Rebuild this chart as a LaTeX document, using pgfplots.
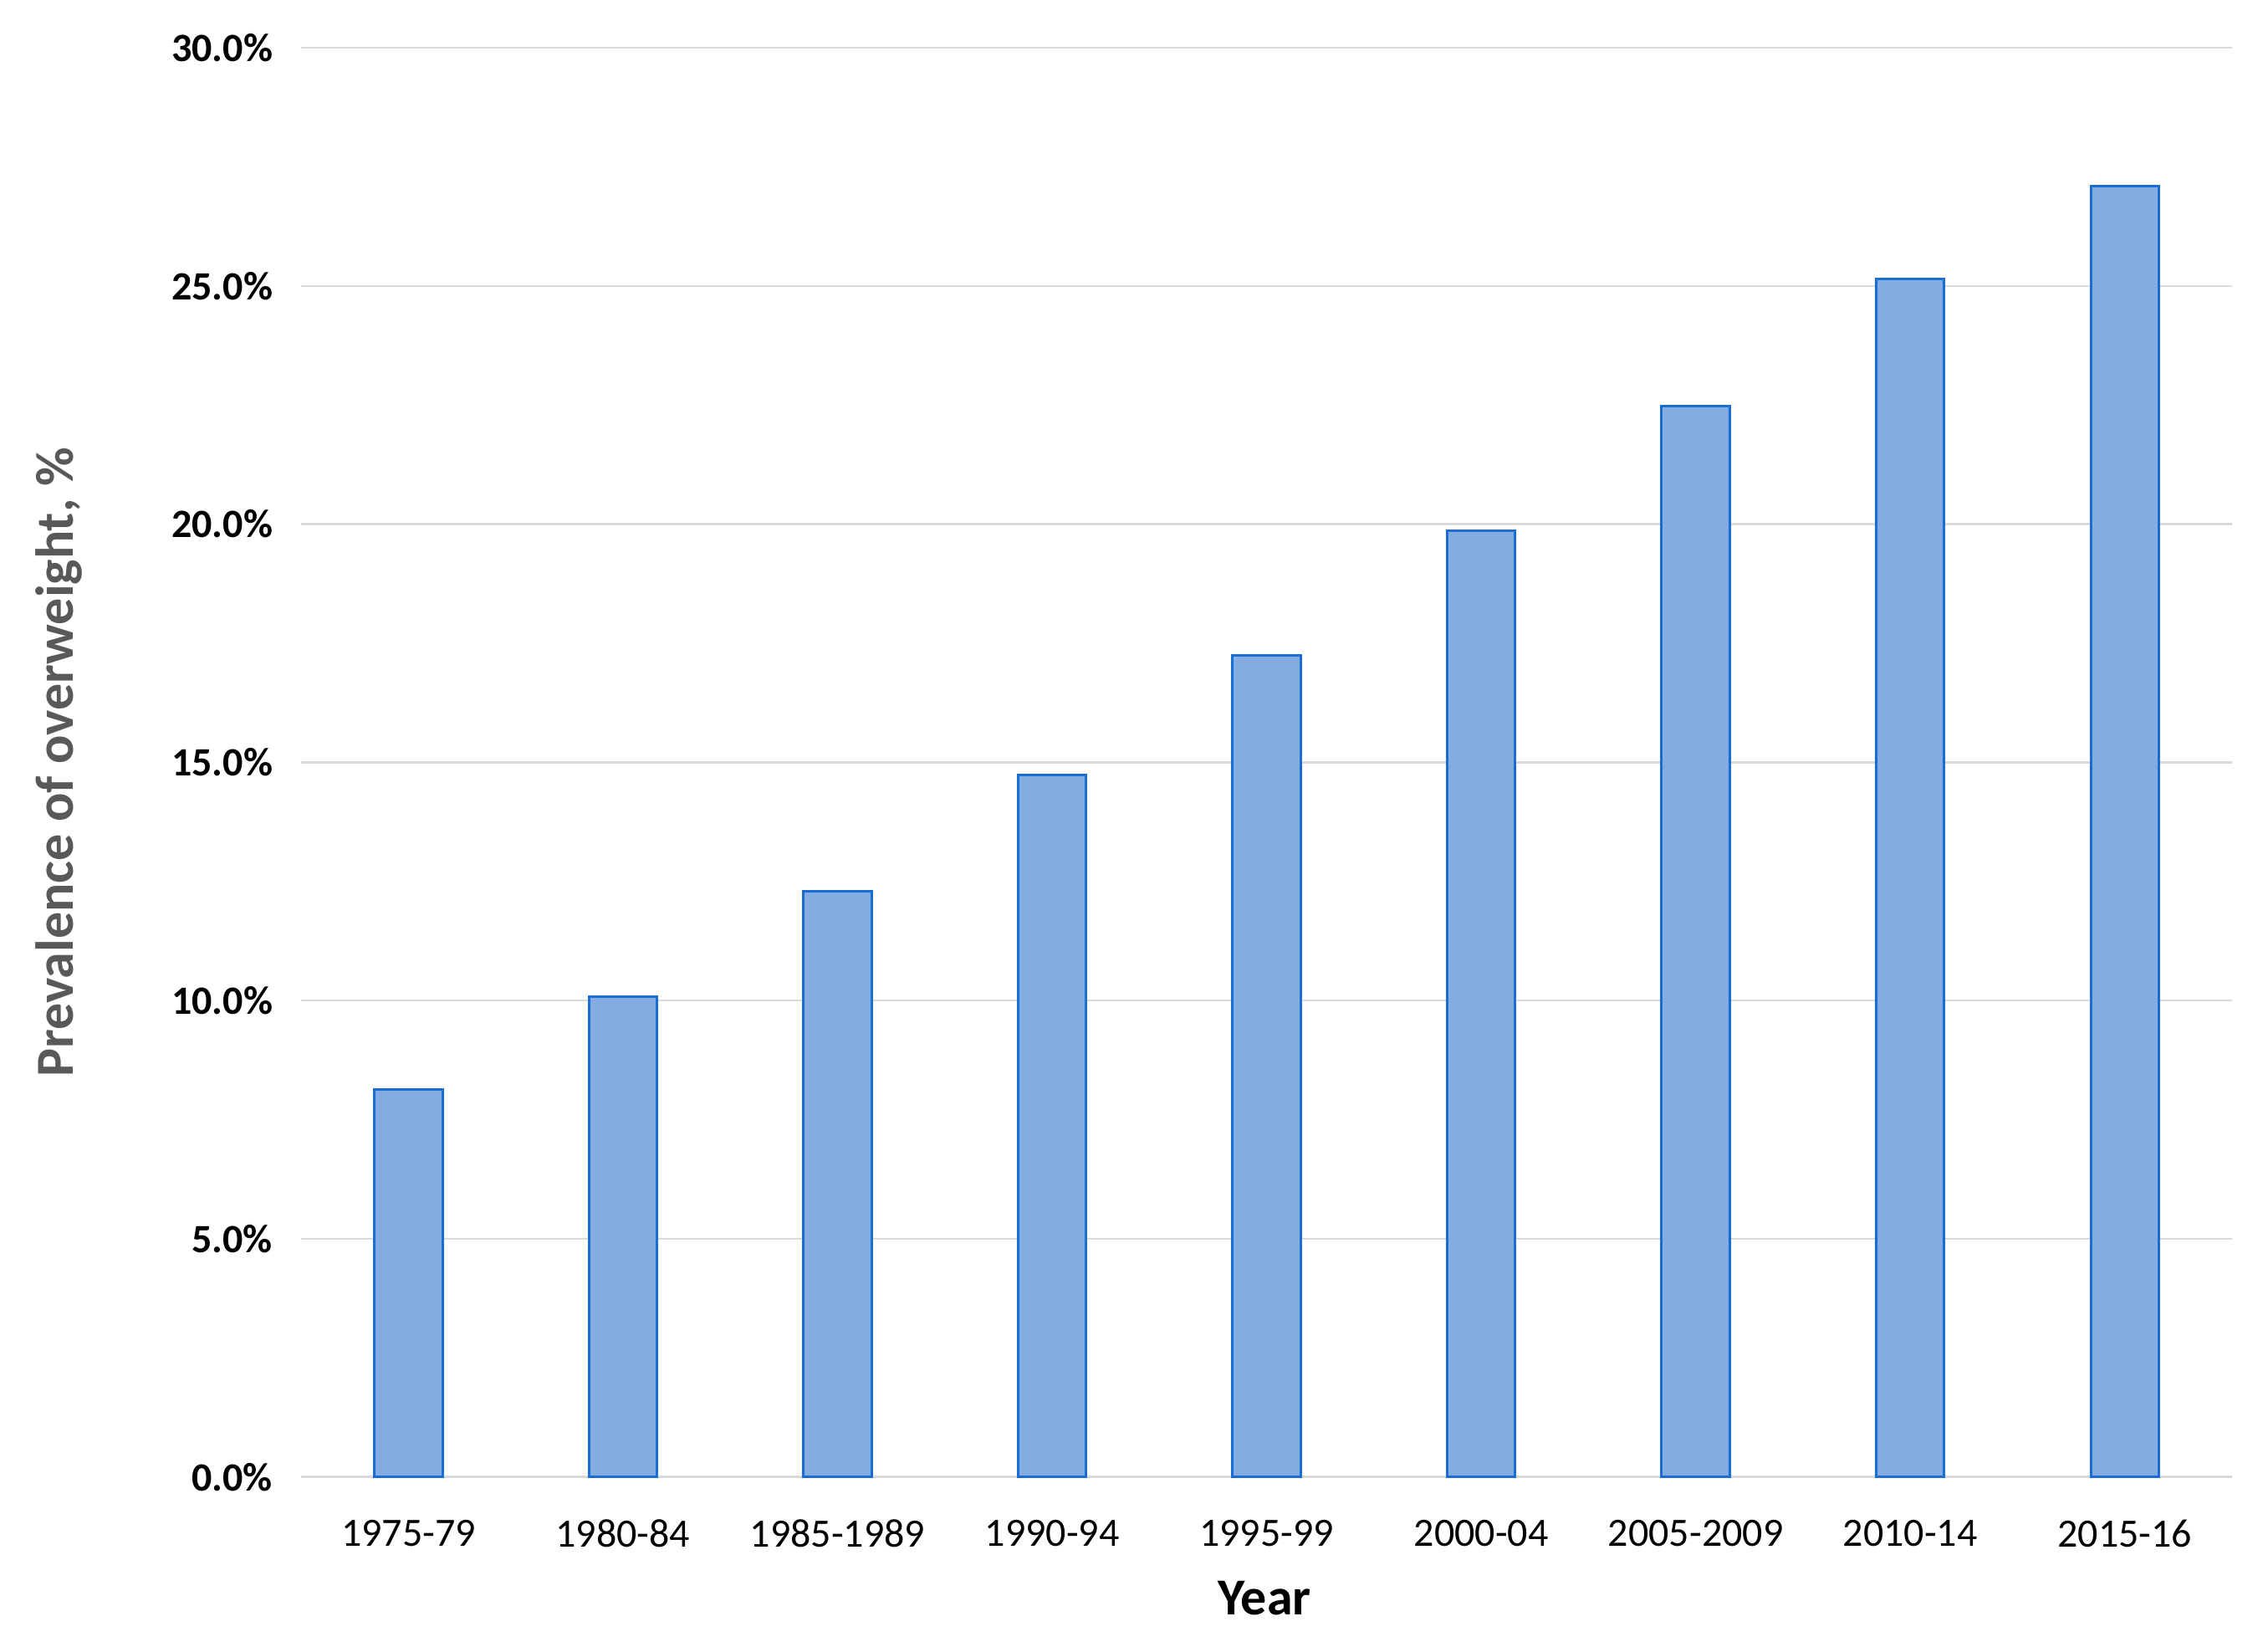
\documentclass[border=0pt]{standalone}
\usepackage{pgfplots}
\pgfplotsset{compat=1.18}
\usepackage{fontspec}
\setmainfont{Carlito}
\definecolor{barfill}{RGB}{132,172,224}
\definecolor{baredge}{RGB}{24,110,210}
\definecolor{gridgray}{RGB}{217,217,217}
\definecolor{labgray}{RGB}{89,89,89}
\begin{document}
\begin{tikzpicture}
\begin{axis}[
  name=ax,
  scale only axis,
  width=577pt, height=427pt,
  xmin=-0.5, xmax=8.5,
  ymin=0, ymax=30,
  ytick={0,5,10,15,20,25,30},
  yticklabels={0.0\%,5.0\%,10.0\%,15.0\%,20.0\%,25.0\%,30.0\%},
  xtick={0,1,2,3,4,5,6,7,8},
  xticklabels={1975-79,1980-84,1985-1989,1990-94,1995-99,2000-04,2005-2009,2010-14,2015-16},
  ymajorgrids,
  grid style={gridgray, line width=0.6pt},
  axis line style={draw=none},
  tick style={draw=none},
  yticklabel style={font=\fontsize{12}{14}\selectfont\bfseries, xshift=-5pt},
  xticklabel style={font=\fontsize{12}{14}\selectfont, yshift=-5pt},
  /pgf/number format/assume math mode=true,
  ylabel={Prevalence of overweight, \%},
  ylabel style={font=\fontsize{16}{19}\selectfont\bfseries, text=labgray, at={(axis description cs:-0.1255,0.5)}, anchor=center, rotate=0},
  xlabel={Year},
  xlabel style={font=\fontsize{15.5}{18}\selectfont\bfseries, at={(axis description cs:0.499,-0.085)}, anchor=center},
  ybar, bar width=0.317,
  clip=false,
]
\addplot[fill=barfill, draw=baredge, line width=0.75pt] coordinates {
  (0,8.14) (1,10.08) (2,12.30) (3,14.73) (4,17.25) (5,19.86) (6,22.47) (7,25.14) (8,27.09)
};
\end{axis}
\path ([xshift=-90pt,yshift=-50.75pt]ax.south west) rectangle ([xshift=10.75pt,yshift=14.25pt]ax.north east);
\end{tikzpicture}
\end{document}
